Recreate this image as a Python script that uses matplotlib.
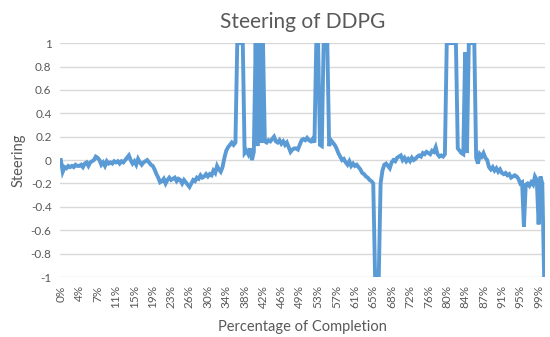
import matplotlib
matplotlib.use("Agg")
import matplotlib.pyplot as plt

# steering values, one per step
steering = [
    0.0, -0.1, -0.06, -0.07, -0.05, -0.06, -0.05, -0.06, -0.04, -0.05,
    -0.05, -0.04, -0.06, -0.03, -0.02, -0.05, -0.02, -0.01, 0.0, 0.03,
    0.02, 0.0, -0.04, -0.02, -0.05, -0.01, -0.03, -0.02, -0.03, -0.01,
    -0.02, -0.01, -0.03, -0.01, -0.02, 0.0, 0.02, 0.04, 0.0, -0.03,
    -0.01, -0.04, 0.01, -0.02, -0.04, -0.02, -0.01, 0.0, -0.02, -0.04,
    -0.05, -0.08, -0.12, -0.15, -0.19, -0.18, -0.16, -0.2, -0.17, -0.15,
    -0.17, -0.16, -0.15, -0.18, -0.16, -0.17, -0.2, -0.17, -0.19, -0.21,
    -0.23, -0.2, -0.17, -0.18, -0.15, -0.16, -0.13, -0.15, -0.14, -0.12,
    -0.14, -0.12, -0.13, -0.09, -0.11, -0.05, -0.08, -0.1, -0.06, 0.02,
    0.08, 0.11, 0.13, 0.15, 0.13, 0.15, 1.0, 1.0, 1.0, 1.0,
    0.06, 0.08, 0.05, 0.1, 0.0, 0.07, 1.0, 0.12, 1.0, 0.15,
    1.0, 0.16, 0.15, 0.17, 0.16, 0.18, 0.2, 0.16, 0.15, 0.17,
    0.14, 0.16, 0.13, 0.15, 0.11, 0.07, 0.09, 0.1, 0.1, 0.09,
    0.13, 0.17, 0.18, 0.17, 0.19, 0.17, 0.16, 0.18, 0.15, 1.0,
    1.0, 0.13, 0.12, 1.0, 1.0, 1.0, 0.12, 0.17, 0.15, 0.13,
    0.1, 0.06, 0.03, 0.0, 0.01, -0.02, -0.04, -0.01, -0.05, -0.03,
    -0.05, -0.04, -0.06, -0.08, -0.11, -0.12, -0.14, -0.15, -0.17, -0.18,
    -0.2, -1.0, -1.0, -1.0, -0.2, -0.09, -0.04, -0.03, -0.05, -0.07,
    -0.02, 0.0, -0.01, 0.02, 0.03, 0.04, 0.0, 0.02, -0.01, 0.01,
    -0.01, 0.02, 0.0, 0.01, 0.03, 0.04, 0.03, 0.06, 0.05, 0.07,
    0.06, 0.05, 0.08, 0.07, 0.11, 0.05, 0.03, 0.04, 0.03, 0.05,
    1.0, 1.0, 1.0, 1.0, 1.0, 1.0, 0.1, 0.08, 0.06, 0.05,
    0.92, 0.06, 1.0, 1.0, 1.0, 1.0, 0.02, -0.03, 0.05, 0.03,
    0.06, 0.02, 0.0, -0.06, -0.08, -0.06, -0.09, -0.07, -0.1, -0.08,
    -0.11, -0.12, -0.11, -0.13, -0.12, -0.15, -0.14, -0.13, -0.14, -0.16,
    -0.2, -0.19, -0.57, -0.21, -0.2, -0.22, -0.19, -0.21, -0.14, -0.17,
    -0.55, -0.14, -0.2, -1.0,
]

tick_labels = ["0%", "4%", "7%", "11%", "15%", "19%", "23%", "26%", "30%",
               "34%", "38%", "42%", "46%", "49%", "53%", "57%", "61%", "65%",
               "68%", "72%", "76%", "80%", "84%", "87%", "91%", "95%", "99%"]
label_step = 10

grey = "#595959"
plt.rcParams["font.family"] = ["Lato", "DejaVu Sans"]

fig = plt.figure(figsize=(5.5, 3.37), dpi=100)
ax = fig.add_axes([0.109, 0.178, 0.882, 0.694])

ax.plot(range(len(steering)), steering, color="#5b9bd5", lw=2.8,
        solid_joinstyle="miter")

ax.set_xlim(-0.5, len(steering) - 0.5)
ax.set_ylim(-1, 1)
ax.set_yticks([i / 5 for i in range(-5, 6)])
ax.set_yticklabels([f"{i / 5:g}" for i in range(-5, 6)])
ax.set_xticks(range(0, label_step * len(tick_labels), label_step))
ax.set_xticklabels(tick_labels, rotation=90)

ax.grid(axis="y", color="#d9d9d9", lw=1)
ax.set_axisbelow(True)
for s in ax.spines.values():
    s.set_visible(False)
ax.tick_params(length=0, labelsize=8.5, colors=grey, pad=6)

ax.set_title("Steering of DDPG", fontsize=15, color=grey, pad=11)
ax.set_xlabel("Percentage of Completion", fontsize=10.5, color=grey, labelpad=8)
ax.set_ylabel("Steering", fontsize=10.5, color=grey, labelpad=4)

fig.savefig("out.png", dpi=100)
